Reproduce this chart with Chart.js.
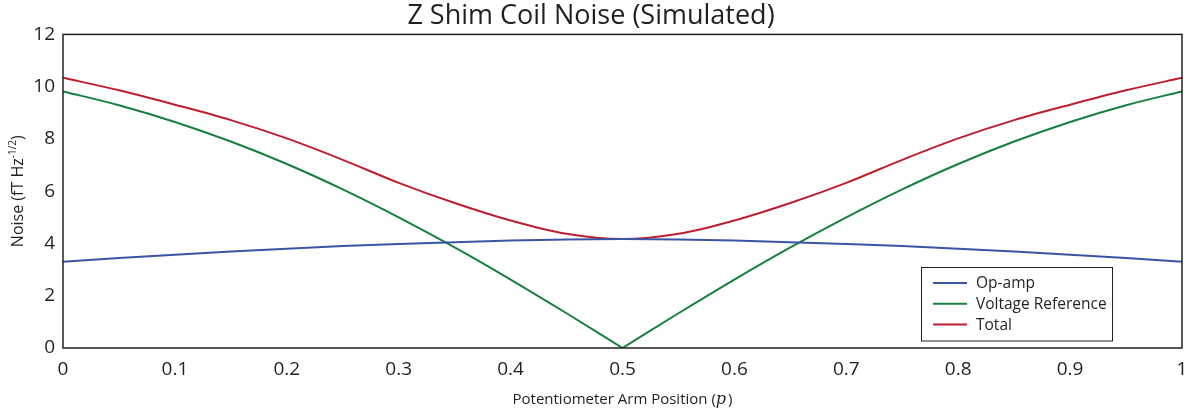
<!DOCTYPE html>
<html>
<head>
<meta charset="utf-8">
<script src="https://cdn.jsdelivr.net/npm/chart.js@4"></script>
<style>
    html, body { margin: 0; padding: 0; background: #fff; }
    #wrap { width: 1189px; height: 414px; }
</style>
</head>
<body>
<div id="wrap"><canvas id="chart" width="1189" height="414"></canvas></div>
<script>
const armPosition = [0, 0.05, 0.1, 0.15, 0.2, 0.25, 0.3, 0.35, 0.4, 0.45, 0.5,
    0.55, 0.6, 0.65, 0.7, 0.75, 0.8, 0.85, 0.9, 0.95, 1];
const opAmpNoise = [3.30, 3.44, 3.57, 3.69, 3.80, 3.90, 3.98, 4.05, 4.11, 4.15, 4.17,
    4.15, 4.11, 4.05, 3.98, 3.90, 3.80, 3.69, 3.57, 3.44, 3.30];
const vrefNoise = [9.82, 9.29, 8.65, 7.90, 7.04, 6.07, 5.00, 3.85, 2.62, 1.33, 0,
    1.33, 2.62, 3.85, 5.00, 6.07, 7.04, 7.90, 8.65, 9.29, 9.82];
const totalNoise = [10.34, 9.86, 9.31, 8.72, 8.02, 7.20, 6.32, 5.55, 4.88, 4.37, 4.17,
    4.37, 4.88, 5.55, 6.32, 7.20, 8.02, 8.72, 9.31, 9.86, 10.34];
const seriesNames = ['Op-amp', 'Voltage Reference', 'Total'];
const seriesColors = ['#3a55a4', '#17803c', '#bd1f2d'];

const ink = '#231f20';
const fontFamily = '"Open Sans", "Noto Sans", sans-serif';
const mathFont = 'italic 16px "DejaVu Serif", "Liberation Serif", serif';

function toPoints(values, from = 0, to = values.length) {
    let pts = [];
    for (let i = from; i < to; i++)
        pts.push({ x: armPosition[i], y: values[i] });
    return pts;
}

// frame, legend box and axis titles (with superscript / italic p)
const decorations = {
    id: 'decorations',
    afterDraw(chart) {
        const ctx = chart.ctx;
        const area = chart.chartArea;
        ctx.save();

        ctx.strokeStyle = ink;
        ctx.lineWidth = 1.5;
        ctx.strokeRect(area.left, area.top, area.right - area.left, area.bottom - area.top);

        // legend
        const bw = 191, bh = 73.5;
        const bx = area.right - 70 - bw;
        const by = area.bottom - 7.5 - bh;
        ctx.fillStyle = '#fff';
        ctx.fillRect(bx, by, bw, bh);
        ctx.lineWidth = 1;
        ctx.strokeStyle = ink;
        ctx.strokeRect(bx + 0.5, by + 0.5, bw, bh);
        ctx.font = '15.5px ' + fontFamily;
        ctx.textBaseline = 'middle';
        ctx.textAlign = 'left';
        seriesNames.forEach((name, i) => {
            const y = by + 16 + i * 20.8;
            ctx.strokeStyle = seriesColors[i];
            ctx.lineWidth = 2;
            ctx.beginPath();
            ctx.moveTo(bx + 12, y);
            ctx.lineTo(bx + 46, y);
            ctx.stroke();
            ctx.fillStyle = ink;
            ctx.fillText(name, bx + 55, y + 0.5);
        });

        // x title
        const xMain = 'Potentiometer Arm Position (';
        ctx.font = '15px ' + fontFamily;
        const w1 = ctx.measureText(xMain).width;
        const w3 = ctx.measureText(')').width;
        ctx.font = mathFont;
        const w2 = ctx.measureText('p').width;
        const cx = (area.left + area.right) / 2;
        let x = cx - (w1 + w2 + 2 + w3) / 2;
        const yBase = 404;
        ctx.textBaseline = 'alphabetic';
        ctx.fillStyle = ink;
        ctx.font = '15px ' + fontFamily;
        ctx.fillText(xMain, x, yBase);
        x += w1;
        ctx.font = mathFont;
        ctx.fillText('p', x, yBase);
        x += w2 + 2;
        ctx.font = '15px ' + fontFamily;
        ctx.fillText(')', x, yBase);

        // y title, rotated
        const yMain = 'Noise (fT Hz';
        const sup = '-1/2';
        ctx.font = '16px ' + fontFamily;
        const s1 = ctx.measureText(yMain).width;
        const s3 = ctx.measureText(')').width;
        ctx.font = '10px ' + fontFamily;
        const s2 = ctx.measureText(sup).width;
        const total = s1 + s2 + s3;
        ctx.translate(23, (area.top + area.bottom) / 2);
        ctx.rotate(-Math.PI / 2);
        let t = -total / 2;
        ctx.font = '16px ' + fontFamily;
        ctx.fillText(yMain, t, 0);
        t += s1;
        ctx.font = '10px ' + fontFamily;
        ctx.fillText(sup, t, -7);
        t += s2;
        ctx.font = '16px ' + fontFamily;
        ctx.fillText(')', t, 0);

        ctx.restore();
    }
};

function lineSet(name, color, points) {
    return {
        label: name,
        data: points,
        borderColor: color,
        backgroundColor: color,
        borderWidth: 2,
        pointRadius: 0,
        fill: false,
        cubicInterpolationMode: 'monotone'
    };
}

// the voltage reference curve has a sharp tip at p = 0.5, so draw its two branches separately
const datasets = [
    lineSet(seriesNames[0], seriesColors[0], toPoints(opAmpNoise)),
    lineSet(seriesNames[1], seriesColors[1], toPoints(vrefNoise, 0, 11)),
    lineSet(seriesNames[1], seriesColors[1], toPoints(vrefNoise, 10, 21)),
    lineSet(seriesNames[2], seriesColors[2], toPoints(totalNoise))
];

new Chart('chart', {
    type: 'line',
    data: { datasets: datasets },
    options: {
        responsive: false,
        animation: false,
        layout: { padding: { left: 0, right: 7, top: 0, bottom: 0 } },
        plugins: {
            legend: { display: false },
            tooltip: { enabled: false },
            title: {
                display: true,
                text: 'Z Shim Coil Noise (Simulated)',
                color: ink,
                font: { family: fontFamily, size: 27, weight: 'normal' },
                padding: { top: 0, bottom: 2 }
            }
        },
        scales: {
            x: {
                type: 'linear',
                min: 0,
                max: 1,
                grid: { display: false, drawTicks: false },
                border: { display: false },
                ticks: {
                    stepSize: 0.1,
                    padding: 10,
                    color: ink,
                    maxRotation: 0,
                    font: { family: fontFamily, size: 19 },
                    callback: v => String(Number(v.toFixed(1)))
                },
                afterFit: s => {
                    s.height = 66;
                    s.paddingLeft = 0;
                    s.paddingRight = 0;
                }
            },
            y: {
                min: 0,
                max: 12,
                grid: { display: false, drawTicks: false },
                border: { display: false },
                ticks: {
                    stepSize: 2,
                    padding: 8,
                    color: ink,
                    font: { family: fontFamily, size: 19 }
                },
                afterFit: s => { s.width = 63; }
            }
        }
    },
    plugins: [decorations]
});
</script>
</body>
</html>
